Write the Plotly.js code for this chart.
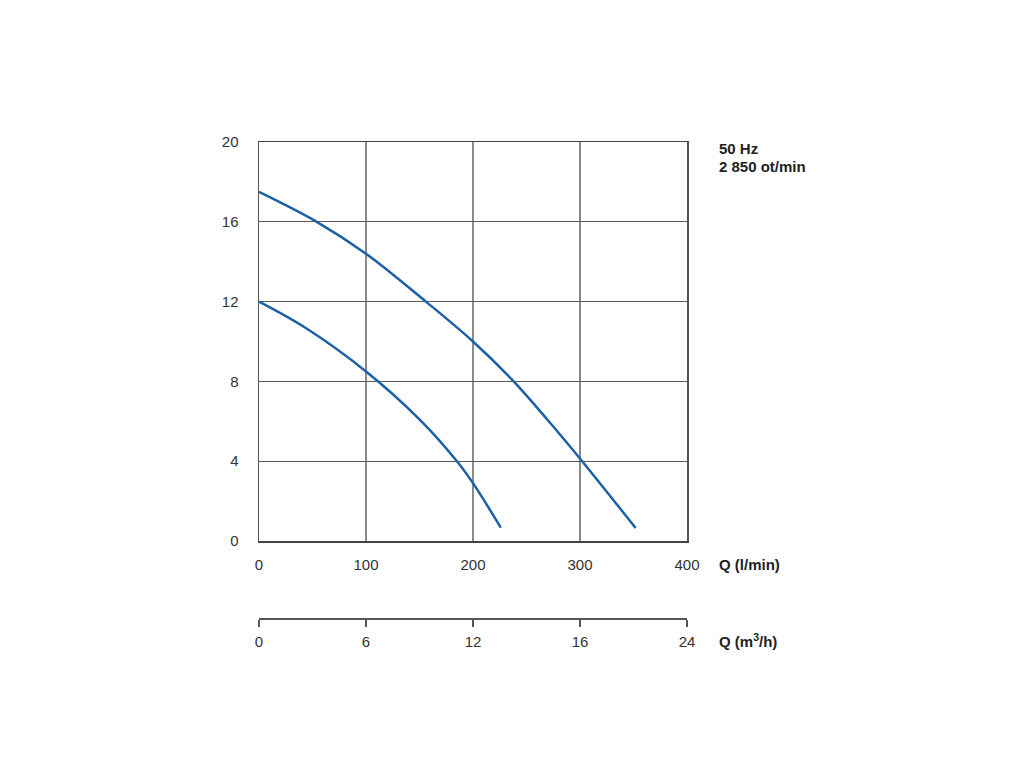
<!DOCTYPE html>
<html>
<head>
<meta charset="utf-8">
<script src="https://cdn.plot.ly/plotly-3.0.1.min.js"></script>
<style>html,body{margin:0;padding:0;background:#fff;}#chart{width:1024px;height:768px;}</style>
</head>
<body>
<div id="chart"></div>
<script>
// Flow (l/min) and head (m)
var upperQ = [0, 54, 100, 156, 200, 238, 270, 302, 352];
var upperH = [17.5, 16, 14.4, 12, 10, 8, 6.05, 4, 0.65];
var lowerQ = [0, 43, 100, 150, 185, 200, 226];
var lowerH = [12, 10.7, 8.5, 6.1, 4, 2.9, 0.67];

var lminTicks = [0, 100, 200, 300, 400];
var headTicks = [0, 4, 8, 12, 16, 20];
var m3hTicks = [0, 6, 12, 18, 24];
var m3hLabels = ['0', '6', '12', '16', '24'];

var lineColor = '#1b60a8';
var baseFont = {family: 'Liberation Sans, Arial, sans-serif', size: 15, color: '#333'};

var traces = [
  {x: upperQ, y: upperH, mode: 'lines', line: {color: lineColor, width: 2.5, shape: 'spline'}, hoverinfo: 'skip'},
  {x: lowerQ, y: lowerH, mode: 'lines', line: {color: lineColor, width: 2.5, shape: 'spline'}, hoverinfo: 'skip'},
  {x: [], y: [], xaxis: 'x2', yaxis: 'y', mode: 'lines', hoverinfo: 'skip'}
];

var plotTop = 142, mainBottom = 541, axis2Pos = 618;
var mainDomainStart = (axis2Pos - mainBottom) / (axis2Pos - plotTop);
var labelFont = {family: baseFont.family, size: 15, color: '#222'};
var layout = {
  width: 1024, height: 768,
  paper_bgcolor: '#fff', plot_bgcolor: '#fff',
  showlegend: false,
  font: baseFont,
  margin: {l: 259, r: 337, t: plotTop, b: 768 - axis2Pos, pad: 0},
  xaxis: {
    range: [0, 400], tickvals: lminTicks, ticks: '', ticklabelstandoff: 9,
    tickfont: baseFont,
    showgrid: true, gridcolor: '#8a8a8a', gridwidth: 1.5,
    showline: true, linecolor: '#444', linewidth: 1.5, mirror: true,
    zeroline: false, anchor: 'y', fixedrange: true
  },
  xaxis2: {
    range: [0, 24], tickvals: m3hTicks, ticktext: m3hLabels,
    tickfont: baseFont,
    overlaying: 'x', anchor: 'free', position: 0, side: 'bottom',
    ticks: 'outside', ticklen: 7, tickwidth: 1.5, tickcolor: '#555', ticklabelstandoff: 2,
    showgrid: false, showline: true, linecolor: '#555', linewidth: 1.5,
    zeroline: false, fixedrange: true
  },
  yaxis: {
    range: [0, 20], tickvals: headTicks, ticks: '', ticklabelstandoff: 16,
    tickfont: baseFont,
    domain: [mainDomainStart, 1],
    showgrid: true, gridcolor: '#5a5a5a', gridwidth: 1.3,
    showline: true, linecolor: '#555', linewidth: 1.5, mirror: true,
    zeroline: false, fixedrange: true
  },
  annotations: [
    {text: '<b>50 Hz</b>', xref: 'paper', yref: 'paper', x: 1, y: 1, xshift: 30, yshift: -6, xanchor: 'left', yanchor: 'middle', showarrow: false, font: labelFont},
    {text: '<b>2 850 ot/min</b>', xref: 'paper', yref: 'paper', x: 1, y: 1, xshift: 30, yshift: -24, xanchor: 'left', yanchor: 'middle', showarrow: false, font: labelFont},
    {text: '<b>Q (l/min)</b>', xref: 'paper', yref: 'paper', x: 1, y: mainDomainStart, xshift: 30, yshift: -23, xanchor: 'left', yanchor: 'middle', showarrow: false, font: labelFont},
    {text: '<b>Q (m<sup>3</sup>/h)</b>', xref: 'paper', yref: 'paper', x: 1, y: 0, xshift: 30, yshift: -22, xanchor: 'left', yanchor: 'middle', showarrow: false, font: labelFont}
  ]
};

Plotly.newPlot('chart', traces, layout, {staticPlot: true, displayModeBar: false});
</script>
</body>
</html>
